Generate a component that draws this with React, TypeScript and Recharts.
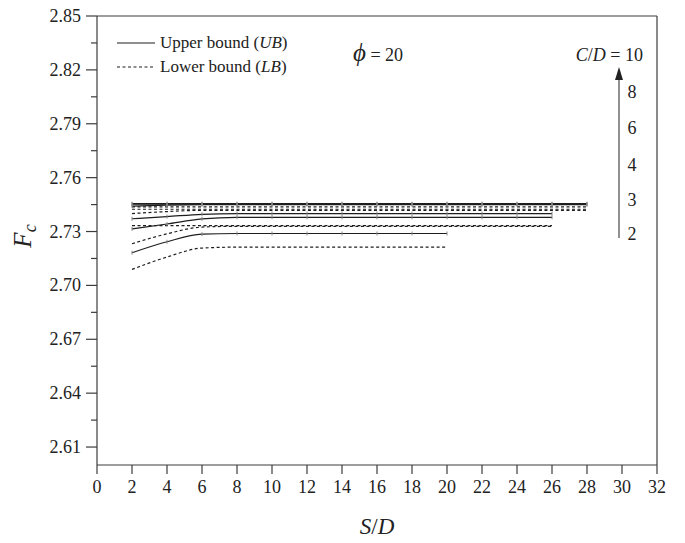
import React from 'react';
import { LineChart, Line, XAxis, YAxis, ReferenceLine } from 'recharts';

// S/D values for each series length
const SD_20 = [2, 4, 6, 8, 10, 12, 14, 16, 18, 20];
const SD_26 = [2, 4, 6, 8, 10, 12, 14, 16, 18, 20, 22, 24, 26];
const SD_28 = [2, 4, 6, 8, 10, 12, 14, 16, 18, 20, 22, 24, 26, 28];

// Fc values: upper bound (UB) and lower bound (LB) for each C/D
const UB_CD2 = [2.7182, 2.7243, 2.7285, 2.7289, 2.7289, 2.7289, 2.7289, 2.7289, 2.7289, 2.7289];
const LB_CD2 = [2.7089, 2.7158, 2.7208, 2.7213, 2.7213, 2.7213, 2.7213, 2.7213, 2.7213, 2.7213];
const UB_CD3 = [2.7315, 2.7342, 2.737, 2.7379, 2.7379, 2.7379, 2.7379, 2.7379, 2.7379, 2.7379, 2.7379, 2.7379, 2.7379];
const LB_CD3 = [2.7232, 2.7287, 2.7325, 2.7329, 2.7329, 2.7329, 2.7329, 2.7329, 2.7329, 2.7329, 2.7329, 2.7329, 2.7329];
const UB_CD4 = [2.7371, 2.7383, 2.7396, 2.74, 2.74, 2.74, 2.74, 2.74, 2.74, 2.74, 2.74, 2.74, 2.74];
const LB_CD4 = [2.7333, 2.7333, 2.7333, 2.7333, 2.7333, 2.7333, 2.7333, 2.7333, 2.7333, 2.7333, 2.7333, 2.7333, 2.7333];
const UB_CD6 = [2.7441, 2.7447, 2.745, 2.745, 2.745, 2.745, 2.745, 2.745, 2.745, 2.745, 2.745, 2.745, 2.745, 2.745];
const LB_CD6 = [2.74, 2.7411, 2.7418, 2.7418, 2.7418, 2.7418, 2.7418, 2.7418, 2.7418, 2.7418, 2.7418, 2.7418, 2.7418, 2.7418];
const UB_CD8 = [2.7452, 2.7452, 2.7452, 2.7452, 2.7452, 2.7452, 2.7452, 2.7452, 2.7452, 2.7452, 2.7452, 2.7452, 2.7452, 2.7452];
const LB_CD8 = [2.7424, 2.7424, 2.7424, 2.7424, 2.7424, 2.7424, 2.7424, 2.7424, 2.7424, 2.7424, 2.7424, 2.7424, 2.7424, 2.7424];
const UB_CD10 = [2.7455, 2.7455, 2.7455, 2.7455, 2.7455, 2.7455, 2.7455, 2.7455, 2.7455, 2.7455, 2.7455, 2.7455, 2.7455, 2.7455];
const LB_CD10 = [2.7437, 2.7437, 2.7437, 2.7437, 2.7437, 2.7437, 2.7437, 2.7437, 2.7437, 2.7437, 2.7437, 2.7437, 2.7437, 2.7437];

// Axis ticks
const X_TICKS = [0, 2, 4, 6, 8, 10, 12, 14, 16, 18, 20, 22, 24, 26, 28, 30, 32];
const Y_MAJOR = [2.61, 2.64, 2.67, 2.7, 2.73, 2.76, 2.79, 2.82, 2.85];
const Y_MAJOR_LABELS = ['2.61', '2.64', '2.67', '2.70', '2.73', '2.76', '2.79', '2.82', '2.85'];
const Y_MINOR = [2.625, 2.655, 2.685, 2.715, 2.745, 2.775, 2.805, 2.835];

// Annotation labels
const CD_LABELS = ['8', '6', '4', '3', '2'];

const build = (xs: number[], ys: number[]) => xs.map((x, i) => ({ x, y: ys[i] }));

const SERIES = [
  { name: 'UB C/D=2', data: build(SD_20, UB_CD2), ub: true },
  { name: 'LB C/D=2', data: build(SD_20, LB_CD2), ub: false },
  { name: 'UB C/D=3', data: build(SD_26, UB_CD3), ub: true },
  { name: 'LB C/D=3', data: build(SD_26, LB_CD3), ub: false },
  { name: 'UB C/D=4', data: build(SD_26, UB_CD4), ub: true },
  { name: 'LB C/D=4', data: build(SD_26, LB_CD4), ub: false },
  { name: 'UB C/D=6', data: build(SD_28, UB_CD6), ub: true },
  { name: 'LB C/D=6', data: build(SD_28, LB_CD6), ub: false },
  { name: 'UB C/D=8', data: build(SD_28, UB_CD8), ub: true },
  { name: 'LB C/D=8', data: build(SD_28, LB_CD8), ub: false },
  { name: 'UB C/D=10', data: build(SD_28, UB_CD10), ub: true },
  { name: 'LB C/D=10', data: build(SD_28, LB_CD10), ub: false },
];

const AXIS = '#3c3c3c';
const LINE = '#1e1e1e';
const FONT = '"Liberation Serif", "DejaVu Serif", serif';

const YTick = (props: any) => {
  const { x, y, payload } = props;
  const idx = Y_MAJOR.findIndex((v) => Math.abs(v - payload.value) < 1e-6);
  const major = idx >= 0;
  return (
    <g>
      <line x1={x - (major ? 11 : 6)} x2={x} y1={y} y2={y} stroke={AXIS} strokeWidth={1.2} />
      {major && (
        <text x={x - 16} y={y} textAnchor="end" dominantBaseline="central" fontSize={18} fill="#222" fontFamily={FONT}>
          {Y_MAJOR_LABELS[idx]}
        </text>
      )}
    </g>
  );
};

const TickDot = (props: any) => {
  const { cx, cy, key } = props;
  if (cx == null || cy == null) return <g key={key} />;
  return <line key={key} x1={cx} x2={cx} y1={cy - 2} y2={cy + 2} stroke="#888" strokeWidth={1} />;
};

export default function App() {
  return (
    <div style={{ position: 'absolute', left: 0, top: 0, width: 685, height: 543, background: '#fff' }}>
      <LineChart width={685} height={543} margin={{ top: 16, right: 28, left: 0, bottom: 0 }}>
        <XAxis
          type="number"
          dataKey="x"
          domain={[0, 32]}
          ticks={X_TICKS}
          interval={0}
          allowDataOverflow
          height={78}
          stroke={AXIS}
          strokeWidth={1.2}
          tickSize={9}
          tickMargin={6}
          tick={{ fontSize: 18, fill: '#222', fontFamily: FONT }}
        />
        <YAxis
          type="number"
          domain={[2.6, 2.85]}
          ticks={[...Y_MAJOR, ...Y_MINOR].sort((a, b) => a - b)}
          interval={0}
          allowDataOverflow
          width={97}
          stroke={AXIS}
          strokeWidth={1.2}
          tickLine={false}
          tickSize={0}
          tickMargin={0}
          tick={<YTick />}
        />
        <ReferenceLine y={2.85} stroke={AXIS} strokeWidth={1.2} />
        <ReferenceLine x={32} stroke={AXIS} strokeWidth={1.2} />
        {SERIES.map((s) => (
          <Line
            key={s.name}
            name={s.name}
            data={s.data}
            dataKey="y"
            type="monotone"
            stroke={LINE}
            strokeWidth={1.2}
            strokeDasharray={s.ub ? undefined : '3 2.5'}
            dot={s.ub ? <TickDot /> : false}
            activeDot={false}
            isAnimationActive={false}
            legendType="none"
          />
        ))}
      </LineChart>
      <div style={{ position: 'absolute', left: 117, top: 31, fontFamily: FONT, fontSize: 17, color: '#222', lineHeight: '24px' }}>
        <div style={{ display: 'flex', alignItems: 'center', height: 24 }}>
          <svg width={43} height={10}>
            <line x1={0} x2={38} y1={5} y2={5} stroke={LINE} strokeWidth={1.2} />
          </svg>
          <span>Upper bound (<i>UB</i>)</span>
        </div>
        <div style={{ display: 'flex', alignItems: 'center', height: 24 }}>
          <svg width={43} height={10}>
            <line x1={0} x2={38} y1={5} y2={5} stroke={LINE} strokeWidth={1.2} strokeDasharray="3 2.5" />
          </svg>
          <span>Lower bound (<i>LB</i>)</span>
        </div>
      </div>
      <svg
        width={685}
        height={543}
        style={{ position: 'absolute', left: 0, top: 0, pointerEvents: 'none' }}
        fontFamily={FONT}
      >
        <text x={353} y={61} fill="#222">
          <tspan fontStyle="italic" fontSize={25}>ϕ</tspan>
          <tspan fontSize={18}> = 20</tspan>
        </text>
        <text x={643} y={61} textAnchor="end" fill="#222" fontSize={18}>
          <tspan fontStyle="italic">C</tspan>
          <tspan>/</tspan>
          <tspan fontStyle="italic">D</tspan>
          <tspan> = 10</tspan>
        </text>
        <line x1={619} x2={619} y1={238} y2={80} stroke="#555" strokeWidth={1.3} />
        <path d="M615,80 L619,67 L623,80 Z" fill="#222" />
        {CD_LABELS.map((t, i) => (
          <text key={t} x={632} y={[92, 128, 165, 200, 234][i]} textAnchor="middle" dominantBaseline="central" fontSize={18} fill="#222">
            {t}
          </text>
        ))}
        <text x={377} y={534} textAnchor="middle" fontSize={23} fill="#222">
          <tspan fontStyle="italic">S</tspan>
          <tspan>/</tspan>
          <tspan fontStyle="italic">D</tspan>
        </text>
        <g transform="translate(31,236) rotate(-90)">
          <text x={0} y={0} textAnchor="middle" fill="#222">
            <tspan fontStyle="italic" fontSize={25}>F</tspan>
            <tspan fontStyle="italic" fontSize={18} dy={5}>c</tspan>
          </text>
        </g>
      </svg>
    </div>
  );
}
